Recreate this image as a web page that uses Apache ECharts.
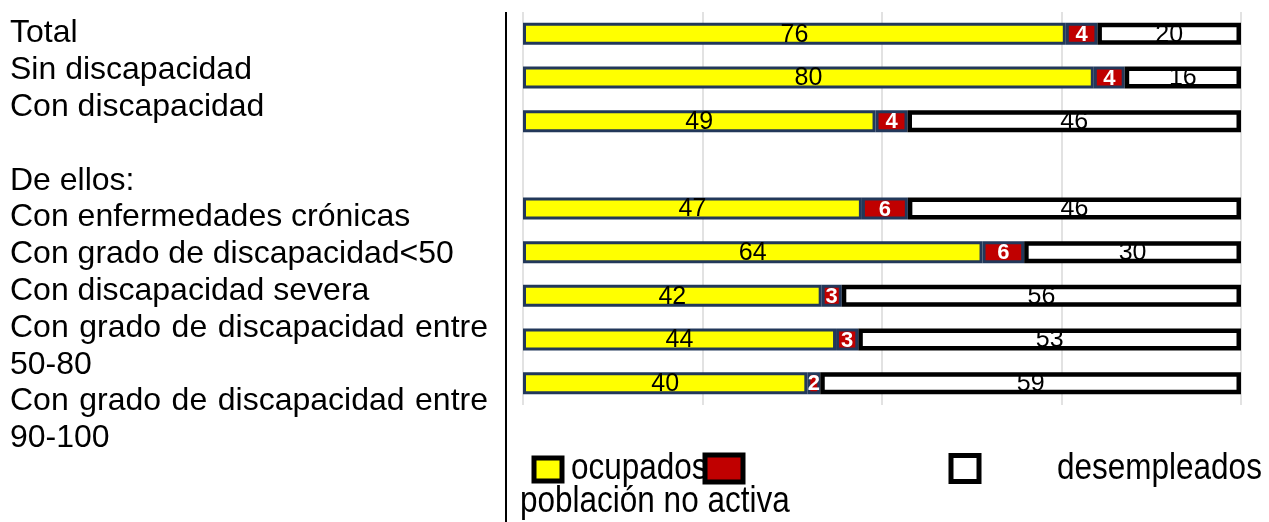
<!DOCTYPE html>
<html>
<head>
<meta charset="utf-8">
<script src="https://cdn.jsdelivr.net/npm/echarts@6/dist/echarts.min.js"></script>
<style>
html,body{margin:0;padding:0;background:#fff;}
#c{width:1269px;height:522px;}
</style>
</head>
<body>
<div id="c"></div>
<script>
// ---- data ----
const categories = ['Total', 'Sin discapacidad', 'Con discapacidad', '', 'Con enfermedades crónicas',
  'Con grado de discapacidad<50', 'Con discapacidad severa',
  'Con grado de discapacidad entre 50-80', 'Con grado de discapacidad entre 90-100'];
const ocupados     = [75.6, 79.5, 49.1, null, 47.2, 64.0, 41.6, 43.6, 39.6];
const desempleados = [4.4, 4.3, 4.45, null, 6.4, 5.8, 2.8, 3.1, 1.8];
const noActiva     = [20.0, 16.2, 46.45, null, 46.4, 30.2, 55.6, 53.3, 58.6];
const leftLines = ['Total', 'Sin discapacidad', 'Con discapacidad', '', 'De ellos:',
  'Con enfermedades crónicas', 'Con grado de discapacidad<50', 'Con discapacidad severa',
  'Con grado de discapacidad entre', '50-80', 'Con grado de discapacidad entre', '90-100'];
const justifiedLines = [8, 10];
const seriesNames = ['ocupados', 'desempleados', 'población no activa'];
const xTicks = { min: 0, max: 100, interval: 25 };

const FONT = '"Liberation Sans", Arial, Helvetica, sans-serif';
const LEFT_FS = 32;

// ---- left text block ----
const measureCtx = document.createElement('canvas').getContext('2d');
measureCtx.font = LEFT_FS + 'px "Liberation Sans", Arial, sans-serif';
const graphics = [];
const textLeft = 10, textRight = 488;
leftLines.forEach((line, i) => {
  if (!line) return;
  const y = 33.5 + 36.8 * i;
  if (justifiedLines.indexOf(i) >= 0) {
    const words = line.split(' ');
    const widths = words.map(w => measureCtx.measureText(w).width);
    const total = widths.reduce((a, b) => a + b, 0);
    const gap = (textRight - textLeft - total) / (words.length - 1);
    let x = textLeft;
    words.forEach((w, k) => {
      graphics.push({ type: 'text', x: x, y: y, silent: true,
        style: { text: w, fontSize: LEFT_FS, fontFamily: FONT, fill: '#000', align: 'left', verticalAlign: 'middle' } });
      x += widths[k] + gap;
    });
  } else {
    graphics.push({ type: 'text', x: textLeft, y: y, silent: true,
      style: { text: line, fontSize: LEFT_FS, fontFamily: FONT, fill: '#000', align: 'left', verticalAlign: 'middle' } });
  }
});
// vertical separator line
graphics.push({ type: 'line', silent: true, shape: { x1: 506, y1: 12, x2: 506, y2: 522 },
  style: { stroke: '#000', lineWidth: 2 } });
// legend texts (slightly stretched vertically like the reference)
const legendTexts = [
  { text: seriesNames[0], x: 571, base: 480 },
  { text: seriesNames[1], x: 1057, base: 480 },
  { text: seriesNames[2], x: 520, base: 513 }
];
const sy = 1.18;
legendTexts.forEach(t => {
  graphics.push({ type: 'text', x: t.x, y: t.base - 9.9 * sy, scaleY: sy, z: 0, silent: true,
    style: { text: t.text, fontSize: 31.5, fontFamily: FONT, fill: '#000', align: 'left', verticalAlign: 'middle' } });
});

const round = p => (p.value == null ? '' : Math.round(p.value));

const chart = echarts.init(document.getElementById('c'), null, { renderer: 'canvas' });
chart.setOption({
  animation: false,
  backgroundColor: '#fff',
  grid: { left: 523, width: 718, top: 12, height: 393, containLabel: false },
  xAxis: {
    type: 'value', min: xTicks.min, max: xTicks.max, interval: xTicks.interval,
    axisLabel: { show: false }, axisLine: { show: false }, axisTick: { show: false },
    splitLine: { show: true, lineStyle: { color: '#d9d9d9', width: 1.5 } }
  },
  yAxis: {
    type: 'category', data: categories, inverse: true,
    axisLabel: { show: false }, axisLine: { show: false }, axisTick: { show: false },
    splitLine: { show: false }
  },
  legend: [
    { data: [{ name: seriesNames[0], icon: 'rect', itemStyle: { color: '#ffff00', borderColor: '#000', borderWidth: 5 } }],
      left: 531.5, top: 455.5, itemWidth: 28, itemHeight: 23, padding: 0, selectedMode: false,
      formatter: () => '', textStyle: { fontSize: 8 } },
    { data: [{ name: seriesNames[1], icon: 'rect', itemStyle: { color: '#c00000', borderColor: '#000', borderWidth: 5 } }],
      left: 702.5, top: 452.5, itemWidth: 38, itemHeight: 27, padding: 0, selectedMode: false,
      formatter: () => '', textStyle: { fontSize: 8 } },
    { data: [{ name: seriesNames[2], icon: 'rect', itemStyle: { color: '#ffffff', borderColor: '#000', borderWidth: 5 } }],
      left: 948.5, top: 453, itemWidth: 28, itemHeight: 26, padding: 0, selectedMode: false,
      formatter: () => '', textStyle: { fontSize: 8 } }
  ],
  graphic: graphics,
  series: [
    { name: seriesNames[0], type: 'bar', stack: 'all', barWidth: 22, data: ocupados,
      itemStyle: { color: '#ffff00', borderColor: '#22385a', borderWidth: 3 },
      label: { show: true, position: 'inside', color: '#000', fontSize: 25, fontFamily: FONT, formatter: round, offset: [0, 1] } },
    { name: seriesNames[1], type: 'bar', stack: 'all', barWidth: 22, data: desempleados,
      itemStyle: { color: '#c00000', borderColor: '#22385a', borderWidth: 3 },
      label: { show: true, position: 'inside', color: '#fff', fontSize: 22, fontWeight: 'bold', fontFamily: FONT, formatter: round, offset: [0, 1] } },
    { name: seriesNames[2], type: 'bar', stack: 'all', barWidth: 22, data: noActiva,
      itemStyle: { color: '#ffffff', borderColor: '#000', borderWidth: 4.5 },
      label: { show: true, position: 'inside', color: '#000', fontSize: 25, fontFamily: FONT, formatter: round, offset: [0, 1] } }
  ]
});
</script>
</body>
</html>
